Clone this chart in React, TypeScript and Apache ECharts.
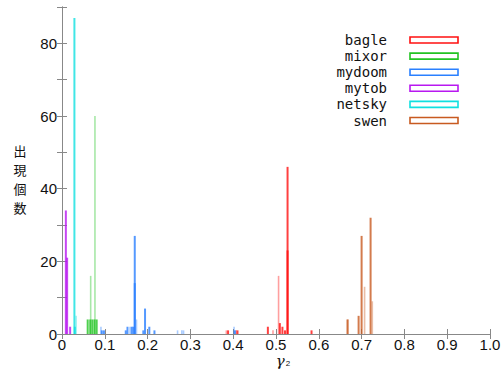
import React, { useEffect, useRef } from "react";
import * as echarts from "echarts";

const wormNames = ["bagle", "mixor", "mydoom", "mytob", "netsky", "swen"];
const wormColors = ["#ff1010", "#22c422", "#2a80ff", "#b818f0", "#10e0e0", "#c85a20"];

// [gamma2, count]
const bagleSolid = [[0.388, 1], [0.410, 1], [0.481, 2], [0.509, 3], [0.515, 2], [0.521, 1], [0.527, 46], [0.527, 23], [0.583, 1]];
const bagleLight = [[0.384, 1], [0.407, 1], [0.493, 1], [0.506, 16]];
const mixorSolid = [[0.060, 4], [0.066, 4], [0.071, 4], [0.076, 4], [0.081, 4]];
const mixorLight = [[0.067, 16], [0.077, 60]];
const mydoomSolid = [[0.093, 1], [0.098, 1], [0.149, 1], [0.153, 2], [0.163, 2], [0.167, 2], [0.170, 27], [0.170, 14], [0.190, 1], [0.194, 7], [0.204, 2], [0.216, 1], [0.404, 1]];
const mydoomLight = [[0.091, 2], [0.159, 2], [0.174, 4], [0.270, 1], [0.280, 1], [0.284, 1], [0.402, 2]];
const mytobSolid = [[0.009, 34], [0.012, 21], [0.019, 2]];
const mytobLight: number[][] = [];
const netskySolid = [[0.029, 87], [0.030, 2]];
const netskyLight = [[0.033, 5]];
const swenSolid = [[0.667, 4], [0.693, 5], [0.700, 27], [0.721, 32]];
const swenLight = [[0.668, 4], [0.707, 13], [0.725, 9]];

const solidData = [bagleSolid, mixorSolid, mydoomSolid, mytobSolid, netskySolid, swenSolid];
const lightData = [bagleLight, mixorLight, mydoomLight, mytobLight, netskyLight, swenLight];

const yTitleChars = ["出", "現", "個", "数"];
const yMax = 90;

function makeSeries(name: string, color: string, data: number[][], opacity: number, width: number) {
  return {
    type: "custom",
    name,
    data,
    renderItem: (params: any, api: any) => {
      const x = api.value(0);
      const y = api.value(1);
      const p0 = api.coord([x, 0]);
      const p1 = api.coord([x, y]);
      return {
        type: "rect",
        shape: { x: p0[0] - width / 2, y: p1[1], width, height: p0[1] - p1[1] },
        style: { fill: color, opacity },
      };
    },
  };
}

export default function App() {
  const ref = useRef<HTMLDivElement>(null);
  useEffect(() => {
    if (!ref.current) return;
    const chart = echarts.init(ref.current, null, { renderer: "svg" });
    const series: any[] = [];
    wormNames.forEach((n, i) => {
      series.push(makeSeries(n, wormColors[i], solidData[i], 0.8, 2));
      series.push(makeSeries(n, wormColors[i], lightData[i], 0.4, 1.6));
    });
    const graphic: any[] = [];
    yTitleChars.forEach((c, i) => {
      graphic.push({
        type: "text",
        x: 20,
        y: 150 + i * 19,
        style: {
          text: c,
          font: '13px "Noto Sans CJK JP"',
          fill: "#111",
          textAlign: "center",
          textVerticalAlign: "middle",
        },
      });
    });
    graphic.push({
      type: "text",
      x: 283,
      y: 361,
      style: {
        text: "{g|γ}{s|2}",
        textAlign: "center",
        textVerticalAlign: "middle",
        rich: {
          g: { fontSize: 15, lineHeight: 15, fontStyle: "italic", fontFamily: "DejaVu Serif", fill: "#111" },
          s: { fontSize: 8, lineHeight: 15, fill: "#111", padding: [5, 0, 0, 1] },
        },
      },
    });
    wormNames.forEach((n, i) => {
      const cy = 40 + i * 16.1;
      graphic.push({
        type: "text",
        x: 387,
        y: cy,
        style: {
          text: n,
          font: '14px "DejaVu Sans Mono"',
          fill: "#111",
          textAlign: "right",
          textVerticalAlign: "middle",
        },
      });
      graphic.push({
        type: "rect",
        shape: { x: 410, y: cy - 3, width: 48, height: 6 },
        style: { fill: "#fff", stroke: wormColors[i], lineWidth: 1.6 },
      });
    });
    const axisLine = { show: true, lineStyle: { color: "#888", width: 1 } };
    const tick = { show: true, inside: true, length: 5, lineStyle: { color: "#888" } };
    chart.setOption({
      animation: false,
      backgroundColor: "#fff",
      grid: { left: 62, top: 7, width: 428, height: 327, containLabel: false, outerBoundsMode: "none" },
      xAxis: [
        {
          type: "value",
          min: 0,
          max: 1,
          interval: 0.1,
          axisLine,
          axisTick: tick,
          splitLine: { show: false },
          axisLabel: {
            color: "#111",
            fontSize: 15,
            lineHeight: 15,
            fontFamily: "Liberation Sans",
            margin: 3,
            formatter: (v: number) => (v === 0 ? "0" : v.toFixed(1)),
          },
        },
        {
          type: "value",
          position: "top",
          min: 0,
          max: 1,
          interval: 0.1,
          axisLine,
          axisTick: tick,
          axisLabel: { show: false },
          splitLine: { show: false },
        },
      ],
      yAxis: [
        {
          type: "value",
          min: 0,
          max: yMax,
          interval: 10,
          axisLine,
          axisTick: tick,
          splitLine: { show: false },
          axisLabel: {
            color: "#111",
            fontSize: 15,
            fontFamily: "Liberation Sans",
            margin: 5,
            formatter: (v: number) => (v % 20 === 0 && v < yMax ? String(v) : ""),
          },
        },
        {
          type: "value",
          position: "right",
          min: 0,
          max: yMax,
          interval: 10,
          axisLine,
          axisTick: tick,
          axisLabel: { show: false },
          splitLine: { show: false },
        },
      ],
      graphic,
      series,
    });
    return () => chart.dispose();
  }, []);
  return <div ref={ref} style={{ position: "absolute", left: 0, top: 0, width: 503, height: 369 }} />;
}
